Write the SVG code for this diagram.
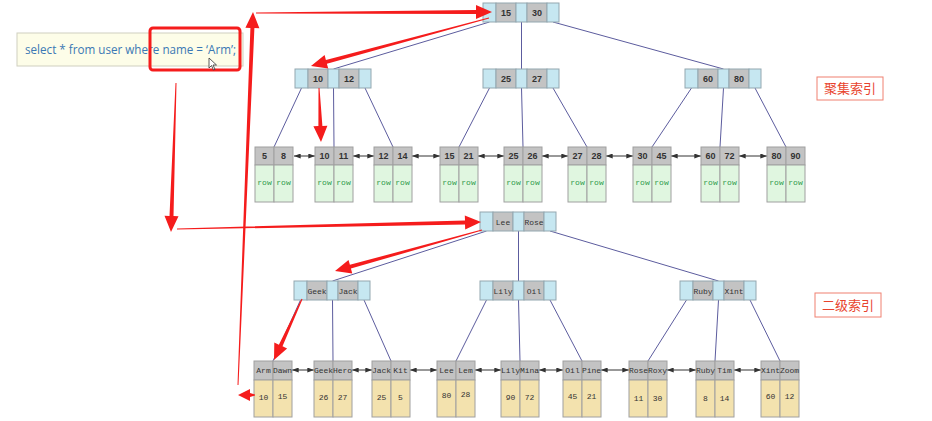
<svg xmlns="http://www.w3.org/2000/svg" width="932" height="421" viewBox="0 0 932 421">
<style>
.b{fill:#c6e7f1;stroke:#93a7b0;stroke-width:1}
.g{fill:#c3c3c3;stroke:#93a7b0;stroke-width:1}
.lh{fill:#c3c3c3;stroke:#a0a0a0;stroke-width:1}
.lr{fill:#e0f6e0;stroke:#a0a0a0;stroke-width:1}
.lt{fill:#f3e2ae;stroke:#a0a0a0;stroke-width:1}
.k{font-family:"Liberation Sans",Arial,sans-serif;font-size:9px;font-weight:bold;fill:#333;text-anchor:middle}
.m{font-family:"Liberation Mono","Courier New",monospace;font-size:8px;fill:#333;text-anchor:middle}
.r{font-family:"Liberation Mono","Courier New",monospace;font-size:8px;fill:#2e9a4e;text-anchor:middle}
.e{stroke:#5c5c9e;stroke-width:1;fill:none}
.la{stroke:#333;stroke-width:1;fill:none;marker-start:url(#ah);marker-end:url(#ah)}
.red{fill:#f51c1c}
.lbl{font-family:"Noto Sans CJK SC","Noto Sans",sans-serif;font-size:13px;fill:#e8432d;text-anchor:middle}
.lbox{fill:#fff;stroke:#f08070;stroke-width:1}
</style>
<defs>
<marker id="ah" viewBox="0 0 8 6" refX="8" refY="3" markerWidth="7" markerHeight="5" markerUnits="userSpaceOnUse" orient="auto-start-reverse"><path d="M0,0 L8,3 L0,6 Z" fill="#333"/></marker>
<g id="node"><rect class="b" x="0" y="0" width="13" height="19"/><rect class="g" x="13" y="0" width="20" height="19"/><rect class="b" x="33" y="0" width="11" height="19"/><rect class="g" x="44" y="0" width="20" height="19"/><rect class="b" x="64" y="0" width="12" height="19"/></g>
<g id="leafC"><rect class="lh" x="0" y="0" width="19" height="18"/><rect class="lh" x="19" y="0" width="19" height="18"/><rect class="lr" x="0" y="18" width="19" height="37"/><rect class="lr" x="19" y="18" width="19" height="37"/></g>
<g id="leafS"><rect class="lh" x="0" y="0" width="19" height="19"/><rect class="lh" x="19" y="0" width="19" height="19"/><rect class="lt" x="0" y="19" width="19" height="37"/><rect class="lt" x="19" y="19" width="19" height="37"/></g>
</defs>
<rect width="932" height="421" fill="#fff"/>

<g id="connectors">
<path class="e" d="M489.5,22 L333.5,69 M521.5,22 L521.5,69 M553,22 L723.5,69"/>
<path class="e" d="M301.5,88 L274,147 M333.5,88 L334,147 M365,88 L393,147"/>
<path class="e" d="M489.5,88 L459,147 M521.5,88 L523,147 M553,88 L587,147"/>
<path class="e" d="M691.5,88 L652,147 M723.5,88 L720,147 M755,88 L786,147"/>
<path class="e" d="M486.5,231 L332.5,281 M518.5,231 L518.5,281 M550,231 L718.5,281"/>
<path class="e" d="M300.5,300 L273,361 M332.5,300 L333,361 M364,300 L391,361"/>
<path class="e" d="M486.5,300 L456,361 M518.5,300 L520,361 M550,300 L582,361"/>
<path class="e" d="M686.5,300 L648,361 M718.5,300 L715,361 M750,300 L780,361"/>
<line class="la" x1="294" y1="156" x2="315" y2="156"/>
<line class="la" x1="353" y1="156" x2="374" y2="156"/>
<line class="la" x1="412" y1="156" x2="440" y2="156"/>
<line class="la" x1="478" y1="156" x2="504" y2="156"/>
<line class="la" x1="542" y1="156" x2="568" y2="156"/>
<line class="la" x1="606" y1="156" x2="633" y2="156"/>
<line class="la" x1="671" y1="156" x2="701" y2="156"/>
<line class="la" x1="739" y1="156" x2="767" y2="156"/>
<line class="la" x1="292" y1="370" x2="314" y2="370"/>
<line class="la" x1="352" y1="370" x2="372" y2="370"/>
<line class="la" x1="410" y1="370" x2="437" y2="370"/>
<line class="la" x1="475" y1="370" x2="501" y2="370"/>
<line class="la" x1="539" y1="370" x2="563" y2="370"/>
<line class="la" x1="601" y1="370" x2="629" y2="370"/>
<line class="la" x1="667" y1="370" x2="696" y2="370"/>
<line class="la" x1="734" y1="370" x2="761" y2="370"/>
</g>

<g id="c-root"><use href="#node" x="483" y="3"/><text class="k" x="506" y="16">15</text><text class="k" x="537" y="16">30</text></g>
<g id="c-n1"><use href="#node" x="295" y="69"/><text class="k" x="318" y="82">10</text><text class="k" x="349" y="82">12</text></g>
<g id="c-n2"><use href="#node" x="483" y="69"/><text class="k" x="506" y="82">25</text><text class="k" x="537" y="82">27</text></g>
<g id="c-n3"><use href="#node" x="685" y="69"/><text class="k" x="708" y="82">60</text><text class="k" x="739" y="82">80</text></g>

<g id="c-l1"><use href="#leafC" x="255" y="147"/><text class="k" x="264.5" y="159">5</text><text class="k" x="283.5" y="159">8</text><text class="r" x="264.5" y="185">row</text><text class="r" x="283.5" y="185">row</text></g>
<g id="c-l2"><use href="#leafC" x="315" y="147"/><text class="k" x="324.5" y="159">10</text><text class="k" x="343.5" y="159">11</text><text class="r" x="324.5" y="185">row</text><text class="r" x="343.5" y="185">row</text></g>
<g id="c-l3"><use href="#leafC" x="374" y="147"/><text class="k" x="383.5" y="159">12</text><text class="k" x="402.5" y="159">14</text><text class="r" x="383.5" y="185">row</text><text class="r" x="402.5" y="185">row</text></g>
<g id="c-l4"><use href="#leafC" x="440" y="147"/><text class="k" x="449.5" y="159">15</text><text class="k" x="468.5" y="159">21</text><text class="r" x="449.5" y="185">row</text><text class="r" x="468.5" y="185">row</text></g>
<g id="c-l5"><use href="#leafC" x="504" y="147"/><text class="k" x="513.5" y="159">25</text><text class="k" x="532.5" y="159">26</text><text class="r" x="513.5" y="185">row</text><text class="r" x="532.5" y="185">row</text></g>
<g id="c-l6"><use href="#leafC" x="568" y="147"/><text class="k" x="577.5" y="159">27</text><text class="k" x="596.5" y="159">28</text><text class="r" x="577.5" y="185">row</text><text class="r" x="596.5" y="185">row</text></g>
<g id="c-l7"><use href="#leafC" x="633" y="147"/><text class="k" x="642.5" y="159">30</text><text class="k" x="661.5" y="159">45</text><text class="r" x="642.5" y="185">row</text><text class="r" x="661.5" y="185">row</text></g>
<g id="c-l8"><use href="#leafC" x="701" y="147"/><text class="k" x="710.5" y="159">60</text><text class="k" x="729.5" y="159">72</text><text class="r" x="710.5" y="185">row</text><text class="r" x="729.5" y="185">row</text></g>
<g id="c-l9"><use href="#leafC" x="767" y="147"/><text class="k" x="776.5" y="159">80</text><text class="k" x="795.5" y="159">90</text><text class="r" x="776.5" y="185">row</text><text class="r" x="795.5" y="185">row</text></g>

<g id="s-root"><use href="#node" x="480" y="212"/><text class="m" x="503" y="225">Lee</text><text class="m" x="534" y="225">Rose</text></g>
<g id="s-n1"><use href="#node" x="294" y="281"/><text class="m" x="317" y="294">Geek</text><text class="m" x="348" y="294">Jack</text></g>
<g id="s-n2"><use href="#node" x="480" y="281"/><text class="m" x="503" y="294">Lily</text><text class="m" x="534" y="294">Oil</text></g>
<g id="s-n3"><use href="#node" x="680" y="281"/><text class="m" x="703" y="294">Ruby</text><text class="m" x="734" y="294">Xint</text></g>

<g id="s-l1"><use href="#leafS" x="254" y="361"/><text class="m" x="263.5" y="373">Arm</text><text class="m" x="282.5" y="373">Dawn</text><text class="m" x="263.5" y="400">10</text><text class="m" x="282.5" y="399">15</text></g>
<g id="s-l2"><use href="#leafS" x="314" y="361"/><text class="m" x="323.5" y="373">Geek</text><text class="m" x="342.5" y="373">Hero</text><text class="m" x="323.5" y="400">26</text><text class="m" x="342.5" y="400">27</text></g>
<g id="s-l3"><use href="#leafS" x="372" y="361"/><text class="m" x="381.5" y="373">Jack</text><text class="m" x="400.5" y="373">Kit</text><text class="m" x="381.5" y="400">25</text><text class="m" x="400.5" y="400">5</text></g>
<g id="s-l4"><use href="#leafS" x="437" y="361"/><text class="m" x="446.5" y="373">Lee</text><text class="m" x="465.5" y="373">Lem</text><text class="m" x="446.5" y="398">80</text><text class="m" x="465.5" y="397">28</text></g>
<g id="s-l5"><use href="#leafS" x="501" y="361"/><text class="m" x="510.5" y="373">Lily</text><text class="m" x="529.5" y="373">Mina</text><text class="m" x="510.5" y="400">90</text><text class="m" x="529.5" y="400">72</text></g>
<g id="s-l6"><use href="#leafS" x="563" y="361"/><text class="m" x="572.5" y="373">Oil</text><text class="m" x="591.5" y="373">Pine</text><text class="m" x="572.5" y="399">45</text><text class="m" x="591.5" y="399">21</text></g>
<g id="s-l7"><use href="#leafS" x="629" y="361"/><text class="m" x="638.5" y="373">Rose</text><text class="m" x="657.5" y="373">Roxy</text><text class="m" x="638.5" y="401">11</text><text class="m" x="657.5" y="401">30</text></g>
<g id="s-l8"><use href="#leafS" x="696" y="361"/><text class="m" x="705.5" y="373">Ruby</text><text class="m" x="724.5" y="373">Tim</text><text class="m" x="705.5" y="401">8</text><text class="m" x="724.5" y="401">14</text></g>
<g id="s-l9"><use href="#leafS" x="761" y="361"/><text class="m" x="770.5" y="373">Xint</text><text class="m" x="789.5" y="373">Zoom</text><text class="m" x="770.5" y="399">60</text><text class="m" x="789.5" y="399">12</text></g>

<g id="label-clustered"><rect class="lbox" x="817" y="77" width="66" height="23"/><text class="lbl" x="850" y="93">聚集索引</text></g>
<g id="label-secondary"><rect class="lbox" x="815" y="293" width="66" height="24"/><text class="lbl" x="848" y="310">二级索引</text></g>

<g id="query"><rect x="17" y="33" width="226" height="33" fill="#fdfde8" stroke="#cfcfc0" stroke-width="1"/><text x="25" y="54" font-family="Open Sans,'Noto Sans',sans-serif" font-size="13" fill="#3b78b4" textLength="211" lengthAdjust="spacingAndGlyphs">select * from user where name = ‘Arm’;</text></g>
<rect x="150" y="28" width="90" height="42" rx="3" fill="none" stroke="#f51c1c" stroke-width="3"/>
<path d="M209,58 L209,68 L211.5,65.5 L213.5,70 L215,69.3 L213,65 L216.5,65 Z" fill="#fff" stroke="#333" stroke-width="0.8"/>

<g id="red-arrows">
<polygon class="red" points="175.5,83 169.5,215.9 164.5,215.8 171,232 178.5,216.2 173.5,216.1 176.5,83"/>
<polygon class="red" points="177,229.5 465,224.4 465.2,229.4 481,222 464.8,215.4 465,220.4 177,228.5"/>
<polygon class="red" points="481.9,229.5 349.9,264.8 348.5,260 335,271 352.3,273.4 350.9,268.6 482.1,230.5"/>
<polygon class="red" points="301.5,298.8 278.9,344.7 274.3,342.6 274,360 287.1,348.4 282.5,346.3 302.5,299.2"/>
<polygon class="red" points="255,394.5 250,393 250,389 238,395 250,401 250,397 255,395.5"/>
<polygon class="red" points="238.5,385 254.4,28.1 259.4,28.3 253,12 245.4,27.7 250.4,27.9 237.5,385"/>
<polygon class="red" points="256,13.5 476,14 476,19 492,12 476,5 476,10 256,12.5"/>
<polygon class="red" points="488.9,17.5 325.9,59.9 324.6,55 311,66 328.2,68.6 326.9,63.7 489.1,18.5"/>
<polygon class="red" points="318.5,88 318.4,126.1 313.4,126.3 321,142 327.4,125.7 322.4,125.9 319.5,88"/>
</g>
</svg>
